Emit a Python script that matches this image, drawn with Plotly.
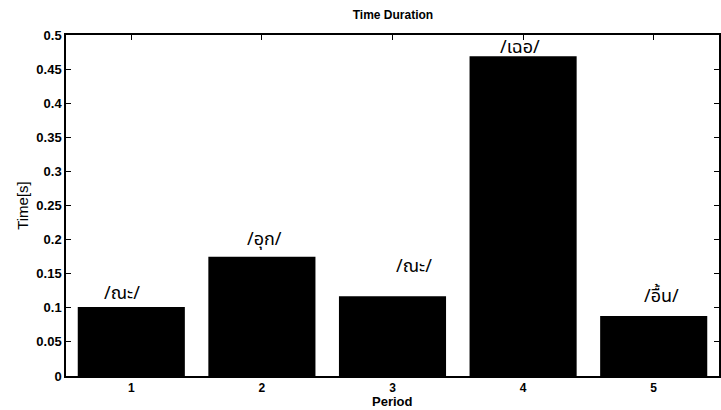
import plotly.graph_objects as go

periods = [1, 2, 3, 4, 5]
durations = [0.101, 0.175, 0.117, 0.469, 0.088]
labels = ["/ณะ/", "/อุก/", "/ณะ/", "/เฉอ/", "/อื้น/"]
label_dy = [-2, 2, 14, -7, 4]
label_dx = [-9, 3, 21, -3, 8]

fig = go.Figure()
fig.add_trace(go.Bar(x=periods, y=durations, width=0.82,
                     marker=dict(color="black", line=dict(width=0)),
                     showlegend=False))

for p, d, t, sy, sx in zip(periods, durations, labels, label_dy, label_dx):
    fig.add_annotation(x=p, y=d, text=t, showarrow=False, yanchor="bottom",
                       yshift=sy, xshift=sx,
                       font=dict(size=18, color="black",
                                 family="Noto Sans Thai, Loma, Garuda, sans-serif"))

fig.add_annotation(x=0.5, y=0, xref="paper", yref="paper", text="<b>Period</b>",
                   showarrow=False, yanchor="top", yshift=-17, borderpad=0,
                   font=dict(family="Liberation Sans, Arial", size=13, color="black"))

axis_font = dict(family="Liberation Sans, Arial", size=13, color="black")
fig.update_layout(
    width=721, height=410,
    margin=dict(l=66, r=2, t=35, b=34, autoexpand=False),
    paper_bgcolor="white", plot_bgcolor="white",
    title=dict(text="<b>Time Duration</b>", x=0.545, xanchor="center", y=0.975,
               font=dict(family="Liberation Sans, Arial", size=12, color="black")),
    xaxis=dict(range=[0.5, 5.5], tickvals=periods, ticktext=[f"<b>{p}</b>" for p in periods],
               ticks="inside", ticklen=5, tickcolor="black", showline=True,
               linecolor="black", linewidth=1.5, mirror="ticks", showgrid=False,
               zeroline=False, automargin=False,
               tickfont=dict(family="Liberation Sans, Arial", size=12, color="black")),
    yaxis=dict(range=[0, 0.5], dtick=0.05, tick0=0, ticks="inside", ticklen=5,
               tickcolor="black", showline=True, linecolor="black", linewidth=1.5,
               mirror="ticks", showgrid=False, zeroline=False, automargin=False,
               tickfont=axis_font,
               tickprefix="<b>", ticksuffix="</b>",
               title=dict(text="Time[s]", standoff=4,
                          font=dict(family="Liberation Sans, Arial", size=15, color="black"))),
)
fig.write_html("out.html")
